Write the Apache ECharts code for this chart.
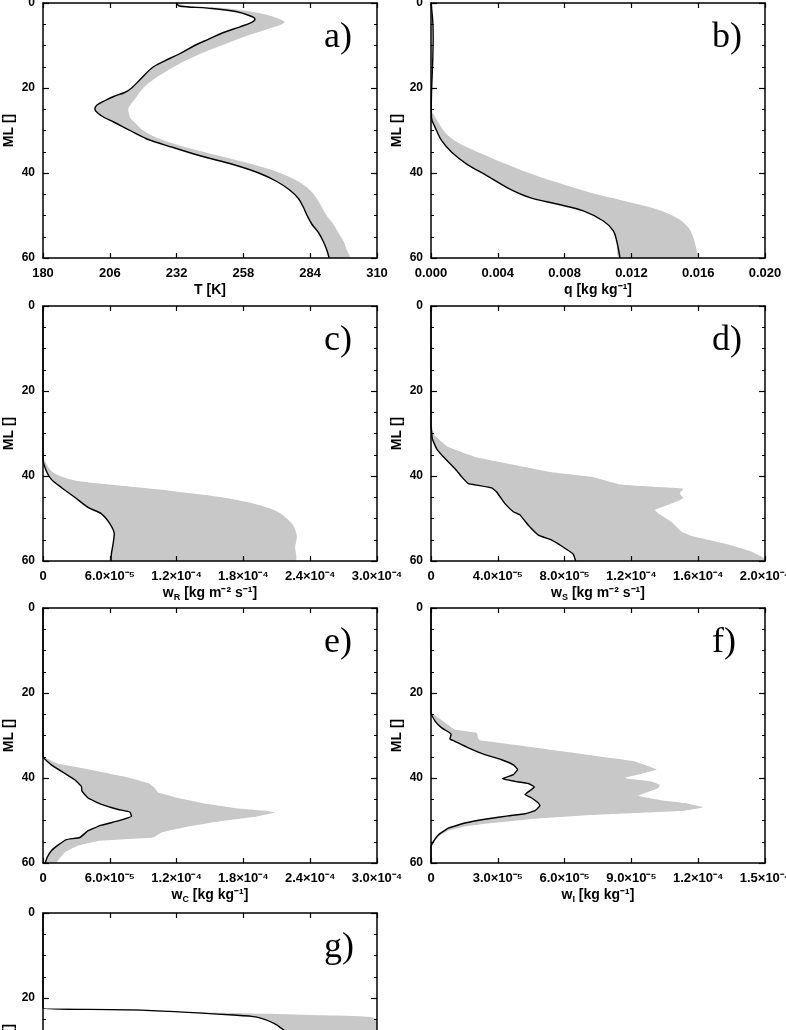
<!DOCTYPE html>
<html>
<head>
<meta charset="utf-8">
<script src="https://cdn.jsdelivr.net/npm/echarts@6/dist/echarts.min.js"></script>
<style>
  html, body { margin: 0; padding: 0; background: #fff; }
  #chart { width: 786px; height: 1030px; }
</style>
</head>
<body>
<div id="chart"></div>
<script>
// y is the model level (ML), x the profile value
const mlTicks = [0, 20, 40, 60];

// a) temperature
const tTicks = [180, 206, 232, 258, 284, 310];
const aLevels = [0, 0.7, 1.2, 2, 3, 3.8, 4.6, 5.6, 7, 8.5, 10, 12, 13, 15, 18, 20, 21, 22, 23, 24,
  25, 26, 27, 28, 30, 32, 34, 36, 38, 40, 42, 44, 46, 48, 50, 52, 54, 56, 58, 60];
const aLine = [232, 233, 244, 255, 260.5, 262.5, 261, 256.7, 250, 244.5, 239, 233, 229.5, 223, 217.8, 214.5, 212, 207.5, 204, 201,
  200.2, 201.5, 204, 207.5, 213.9, 220.4, 230.7, 241.5, 254, 264, 271, 276, 279.4, 281.3, 282.8, 284.6, 287.2, 289, 290.4, 291.4];
const aBandLevels = [0, 0.7, 1.2, 2.4, 3.5, 4.4, 5, 6, 8, 9.5, 11, 13, 15, 18, 20, 22, 24, 25, 27, 28,
  30, 32, 34, 36, 38, 40, 42, 44, 46, 48, 50, 52, 54, 56, 58, 60];
const aBandHi = [232, 236, 250, 264.5, 271, 274, 273, 268, 258, 251.5, 245, 237.5, 231, 223, 219, 216.5, 214, 213.2, 214, 215.5,
  219, 225.5, 235.9, 248.9, 261.9, 272.3, 279.4, 283.9, 286.5, 288.5, 290.4, 293, 294.9, 296.9, 298.2, 299.2];

// b) specific humidity
const qTicks = [0, 0.004, 0.008, 0.012, 0.016, 0.020];
const bLevels = [0, 4, 8, 14, 20, 24, 27, 29.2, 32.4, 35.1, 37.9, 40.6, 43.8, 45.8, 47.3, 48.9, 51.3, 53.6, 56, 60];
const bLine = [0, 0.0001, 0.00013, 0.0001, 0.00004, 0.00002, 0.00003, 0.00024, 0.00064, 0.00124,
  0.00214, 0.00334, 0.00473, 0.00593, 0.00753, 0.00912, 0.01032, 0.01092, 0.01112, 0.01132];
const bBandLevels = [25.5, 31.6, 36.3, 39.5, 42.2, 44.6, 46.5, 48.5, 50.5, 52.8, 55.2, 58.3, 60];
const bBandHi = [0, 0.00114, 0.00353, 0.00553, 0.00753, 0.00952, 0.01152, 0.01351, 0.01471, 0.01541, 0.01571, 0.01591, 0.01601];

// c) rain flux
const wrTicks = [0, 6e-5, 1.2e-4, 1.8e-4, 2.4e-4, 3.0e-4];
const cLevels = [0, 36.1, 38.8, 40.8, 42.7, 45.0, 47.4, 48.9, 51.2, 53.6, 55.9, 58.2, 60];
const cLine = [0, 0, 3e-6, 7.5e-6, 1.65e-5, 2.85e-5, 4.05e-5, 5.25e-5, 6.0e-5, 6.4e-5, 6.3e-5, 6.15e-5, 6.1e-5];
const cBandLevels = [35.7, 38.8, 40.4, 41.3, 42.3, 43.5, 45.0, 46.6, 48.5, 51.2, 54.0, 56.7, 60];
const cBandHi = [0, 7.5e-6, 1.95e-5, 3.45e-5, 7.05e-5, 1.155e-4, 1.605e-4, 1.905e-4, 2.115e-4, 2.235e-4, 2.28e-4, 2.265e-4, 2.26e-4];

// d) snow flux
const wsTicks = [0, 4e-5, 8e-5, 1.2e-4, 1.6e-4, 2.0e-4];
const dLevels = [0, 28.1, 31.25, 33.6, 35.9, 38.3, 40.2, 41.8, 42.2, 42.8, 43.75, 46.5, 48.4, 49.2, 51.6, 53.9, 55.1, 57.0, 58.4, 60];
const dLine = [0, 0, 8e-7, 3.4e-6, 8.4e-6, 1.44e-5, 1.84e-5, 2.24e-5, 2.83e-5, 3.63e-5,
  3.93e-5, 4.43e-5, 4.93e-5, 5.33e-5, 5.83e-5, 6.43e-5, 7.23e-5, 8.02e-5, 8.52e-5, 8.66e-5];
const dBandLevels = [27.7, 30.5, 33.2, 35.5, 37.1, 39.1, 40.2, 42.0, 42.6, 43.0, 44.1,
  45.2, 45.9, 48.0, 48.8, 50.8, 53.1, 54.1, 55.9, 57.8, 59.4, 60];
const dBandHi = [0, 2.4e-6, 1.04e-5, 2.63e-5, 4.63e-5, 7.23e-5, 9.62e-5, 1.132e-4, 1.361e-4, 1.511e-4, 1.49e-4,
  1.511e-4, 1.48e-4, 1.341e-4, 1.361e-4, 1.441e-4, 1.501e-4, 1.561e-4, 1.76e-4, 1.92e-4, 2.0e-4, 2.0e-4];

// e) cloud water
const wcTicks = [0, 6e-5, 1.2e-4, 1.8e-4, 2.4e-4, 3.0e-4];
const eLevels = [0, 35, 36.9, 38.9, 40.4, 42.0, 43.1, 44.7, 46.2, 47.4, 48.0, 49.0, 50.1, 51.1, 52.4, 54.0, 54.5, 55.8, 57.1, 58.6, 60];
const eLine = [0, 0, 7.5e-6, 1.95e-5, 2.85e-5, 3.45e-5, 3.5e-5, 4.05e-5, 5.25e-5, 6.75e-5, 7.8e-5,
  7.95e-5, 6.75e-5, 5.25e-5, 4.05e-5, 3.3e-5, 2.1e-5, 1.35e-5, 7.5e-6, 3.9e-6, 2e-6];
const eBandLevels = [35, 36.6, 38.1, 39.7, 41.2, 42.4, 43.4, 44.7, 46.0, 47.2, 47.8, 48.1,
  49.1, 50.1, 51.4, 52.8, 54.0, 54.4, 54.8, 55.9, 57.5, 59.4, 60];
const eBandHi = [0, 1.35e-5, 4.35e-5, 7.35e-5, 9.45e-5, 1.005e-4, 1.035e-4, 1.215e-4, 1.455e-4, 1.755e-4, 2.025e-4, 2.085e-4,
  1.905e-4, 1.605e-4, 1.305e-4, 1.065e-4, 9.9e-5, 7.35e-5, 4.95e-5, 3.15e-5, 1.95e-5, 1.35e-5, 1.2e-5];

// f) cloud ice
const wiTicks = [0, 3e-5, 6e-5, 9e-5, 1.2e-4, 1.5e-4];
const fLevels = [0, 24.8, 26.6, 28.2, 29.4, 29.8, 30.8, 31.3, 32.9, 34.5, 35.7, 36.9, 38.0, 39.2, 40.2, 40.8, 41.3,
  42.1, 42.8, 43.9, 44.7, 45.9, 46.5, 47.7, 48.4, 48.9, 49.7, 50.6, 51.8, 53.4, 55.0, 56.1, 60];
const fLine = [0, 0, 1.8e-6, 4.8e-6, 8.5e-6, 9.0e-6, 8.5e-6, 1.05e-5, 1.68e-5, 2.42e-5, 3.17e-5, 3.7e-5, 3.89e-5, 3.7e-5, 3.2e-5, 3.77e-5, 4.37e-5,
  4.64e-5, 4.49e-5, 4.22e-5, 4.52e-5, 4.82e-5, 4.89e-5, 4.67e-5, 4.22e-5, 3.47e-5, 2.42e-5, 1.53e-5, 7.8e-6, 3.3e-6, 1e-6, 0, 0];
const fBandLevels = [24.6, 27.0, 28.6, 29.4, 30.8, 31.1, 32.5, 34.1, 35.3, 36.1, 38.0, 39.2, 40.0, 40.8, 41.6,
  42.4, 44.2, 45.1, 45.9, 46.9, 47.7, 48.7, 49.4, 49.8, 50.6, 51.4, 52.4, 53.8, 55.4, 56.5];
const fBandHi = [0, 6.3e-6, 1.08e-5, 2.05e-5, 2.13e-5, 2.2e-5, 4.22e-5, 6.46e-5, 8.1e-5, 9.16e-5, 1.013e-4, 9.3e-5, 8.7e-5, 9.9e-5, 1.028e-4,
  1.02e-4, 9.3e-5, 1.02e-4, 1.14e-4, 1.222e-4, 1.14e-4, 7.2e-5, 5.1e-5, 4.22e-5, 2.72e-5, 1.53e-5, 7.8e-6, 3.3e-6, 1e-6, 0];

// g) only the top part is visible
const gTicks = [0, 0.2, 0.4, 0.6, 0.8, 1.0];
const gLevels = [0, 22.4, 22.8, 24.0, 24.5, 25.9, 27.5, 29];
const gLine = [0, 0, 0.27, 0.57, 0.64, 0.69, 0.72, 0.74];
const gBandLevels = [22.4, 23.3, 23.6, 24.0, 24.4, 25.2, 29];
const gBandHi = [0, 0.42, 0.6, 0.8, 0.97, 1.0, 1.0];

const FONT = 'Liberation Sans';
const SERIF = 'Liberation Serif';
const GRAY = '#c8c8c8';

const SUP = { '-': '\u207b', '0': '\u2070', '1': '\u00b9', '2': '\u00b2', '3': '\u00b3', '4': '\u2074',
  '5': '\u2075', '6': '\u2076', '7': '\u2077', '8': '\u2078', '9': '\u2079' };
function plain(v) { return String(Math.round(v)); }
function fixed3(v) { return v.toFixed(3); }
function sci(v) {
  if (Math.abs(v) < 1e-12) return '0';
  const e = Math.floor(Math.log10(v) + 1e-9);
  const m = v / Math.pow(10, e);
  return m.toFixed(1) + '\u00d710' + String(e).split('').map(c => SUP[c]).join('');
}

// smooth: gentle profiles get a little curve smoothing, the ragged ones none
const panels = [
  { tag: 'a)', ticks: tTicks, fmt: plain, name: 'T [K]', smooth: 0.35, levels: aLevels, line: aLine, bandLevels: aBandLevels, band: aBandHi },
  { tag: 'b)', ticks: qTicks, fmt: fixed3, name: 'q [kg kg\u207b\u00b9]', smooth: 0.35, levels: bLevels, line: bLine, bandLevels: bBandLevels, band: bBandHi },
  { tag: 'c)', ticks: wrTicks, fmt: sci, name: 'w{sub|R} [kg m\u207b\u00b2 s\u207b\u00b9]', smooth: 0.3, levels: cLevels, line: cLine, bandLevels: cBandLevels, band: cBandHi },
  { tag: 'd)', ticks: wsTicks, fmt: sci, name: 'w{sub|S} [kg m\u207b\u00b2 s\u207b\u00b9]', smooth: 0.1, levels: dLevels, line: dLine, bandLevels: dBandLevels, band: dBandHi },
  { tag: 'e)', ticks: wcTicks, fmt: sci, name: 'w{sub|C} [kg kg\u207b\u00b9]', smooth: 0.1, levels: eLevels, line: eLine, bandLevels: eBandLevels, band: eBandHi },
  { tag: 'f)', ticks: wiTicks, fmt: sci, name: 'w{sub|I} [kg kg\u207b\u00b9]', smooth: 0.1, levels: fLevels, line: fLine, bandLevels: fBandLevels, band: fBandHi },
  { tag: 'g)', ticks: gTicks, fmt: v => v.toFixed(1), name: '', smooth: 0.3, levels: gLevels, line: gLine, bandLevels: gBandLevels, band: gBandHi }
];

// band outline: the black line on the left side, the upper values back on the right side
function bandPolygon(p) {
  const lo = p.bandLevels[0], hi = p.bandLevels[p.bandLevels.length - 1];
  const left = [];
  p.levels.forEach((ml, k) => { if (ml >= lo && ml <= hi) left.push([p.line[k], ml]); });
  const right = p.bandLevels.map((ml, k) => [p.band[k], ml]).reverse();
  return left.concat(right);
}

const colLeft = [43, 431], rowTop = [3, 306, 608, 913];
const W = 334, H = 255;
const frame = { color: '#000', width: 1.5 };

const grid = [], xAxis = [], yAxis = [], series = [], title = [];

panels.forEach((p, i) => {
  const left = colLeft[i % 2], top = rowTop[Math.floor(i / 2)];
  grid.push({ left: left, top: top, width: W, height: H, containLabel: false, outerBoundsMode: 'none' });

  const xBase = {
    gridIndex: i, type: 'value', z: 5,
    min: p.ticks[0], max: p.ticks[p.ticks.length - 1], interval: p.ticks[1] - p.ticks[0],
    axisLine: { show: true, onZero: false, lineStyle: frame },
    axisTick: { show: true, inside: true, length: 5, lineStyle: { color: '#000', width: 1.2 } },
    splitLine: { show: false }
  };
  xAxis.push(Object.assign({}, xBase, {
    position: 'bottom',
    axisLabel: { margin: 9, color: '#000', fontSize: 13, fontWeight: 'bold', fontFamily: FONT,
      showMinLabel: true, showMaxLabel: true, formatter: p.fmt },
    name: p.name, nameLocation: 'middle', nameGap: 21,
    nameTextStyle: { color: '#000', fontSize: 14, fontWeight: 'bold', fontFamily: FONT, lineHeight: 18,
      rich: { sub: { color: '#000', fontSize: 9, fontWeight: 'bold', fontFamily: FONT, verticalAlign: 'bottom', lineHeight: 10 } } }
  }));
  xAxis.push(Object.assign({}, xBase, { position: 'top', axisLabel: { show: false } }));

  const yBase = {
    gridIndex: i, type: 'value', inverse: true, z: 5,
    min: mlTicks[0], max: mlTicks[mlTicks.length - 1], interval: mlTicks[1] - mlTicks[0],
    axisLine: { show: true, onZero: false, lineStyle: frame },
    axisTick: { show: true, inside: true, length: 6, lineStyle: { color: '#000', width: 1.2 } },
    minorTick: { show: true, splitNumber: 4, length: 3, lineStyle: { color: '#000', width: 1 } },
    splitLine: { show: false }, minorSplitLine: { show: false }
  };
  yAxis.push(Object.assign({}, yBase, {
    position: 'left',
    axisLabel: { margin: 8, color: '#000', fontSize: 12, fontWeight: 'bold', fontFamily: FONT, showMinLabel: true, showMaxLabel: true },
    name: 'ML []', nameLocation: 'middle', nameGap: 27,
    nameTextStyle: { color: '#000', fontSize: 14, fontWeight: 'bold', fontFamily: FONT }
  }));
  yAxis.push(Object.assign({}, yBase, { position: 'right', axisLabel: { show: false } }));

  const poly = bandPolygon(p);
  series.push({
    type: 'custom', xAxisIndex: 2 * i, yAxisIndex: 2 * i, clip: true, silent: true, z: 1,
    data: [poly[0]],
    renderItem: (params, api) => ({
      type: 'polygon',
      shape: { points: poly.map(pt => api.coord(pt)), smooth: p.smooth },
      style: { fill: GRAY }
    })
  });
  series.push({
    type: 'line', xAxisIndex: 2 * i, yAxisIndex: 2 * i, clip: true, silent: true, z: 2,
    data: p.levels.map((ml, k) => [p.line[k], ml]),
    symbol: 'none', showSymbol: false, smooth: p.smooth,
    lineStyle: { color: '#000', width: 1.4 }
  });

  title.push({
    text: p.tag, left: left + 281, top: top + 17, padding: 0,
    textStyle: { fontFamily: SERIF, fontSize: 36, fontWeight: 'normal', color: '#000' }
  });
});

const chart = echarts.init(document.getElementById('chart'));
chart.setOption({
  animation: false,
  backgroundColor: '#fff',
  title: title,
  grid: grid,
  xAxis: xAxis,
  yAxis: yAxis,
  series: series
});
</script>
</body>
</html>
